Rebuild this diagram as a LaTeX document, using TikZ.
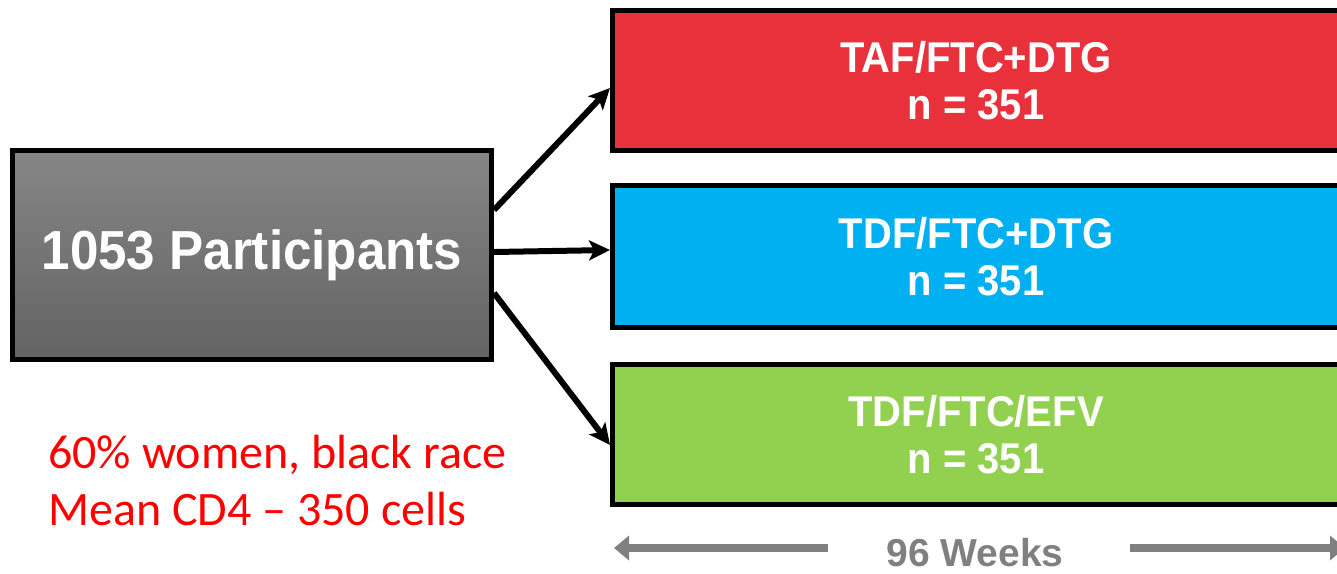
\documentclass[tikz,border=0pt]{standalone}
\usepackage{fontspec}
\setmainfont{Liberation Sans}
\newfontfamily\narrowbold{Liberation Sans}[FakeStretch=0.93]
\newfontfamily\calib{Carlito}
\usetikzlibrary{arrows.meta}
\definecolor{redbox}{HTML}{E8313B}
\definecolor{bluebox}{HTML}{00B0F0}
\definecolor{greenbox}{HTML}{92D050}
\definecolor{graytop}{HTML}{868686}
\definecolor{graybot}{HTML}{636363}
\definecolor{weekgray}{HTML}{808080}
\definecolor{notered}{HTML}{FF0000}
\begin{document}
\begin{tikzpicture}[x=1pt,y=-1pt,
  arm/.style={draw=black, line width=5pt, minimum width=727pt, inner sep=0pt,
    align=center, text=white, font=\narrowbold\bfseries\fontsize{43}{47}\selectfont},
  link/.style={line width=6pt, -{Stealth[length=21pt,width=20pt,inset=5pt]}},
  span/.style={line width=8pt, draw=weekgray, -{Triangle[length=15pt,width=24pt]}},
  note/.style={anchor=base west, inner sep=0pt, text=notered, font=\calib\fontsize{48}{57}\selectfont}]
\useasboundingbox (0,0) rectangle (1337,573);
\clip (0,0) rectangle (1337,573);
\node[draw=black, line width=5pt, minimum width=479pt, minimum height=209pt, inner sep=0pt,
  top color=graytop, bottom color=graybot, text=white,
  font=\narrowbold\bfseries\fontsize{55}{60}\selectfont] (part) at (252,255) {1053 Participants};
\node[arm, fill=redbox, minimum height=140pt] (taf) at (976,80.5) {TAF/FTC+DTG\\n = 351};
\node[arm, fill=bluebox, minimum height=142pt] (tdf) at (976,256.5) {TDF/FTC+DTG\\n = 351};
\node[arm, fill=greenbox, minimum height=140pt] (efv) at (976,434.5) {TDF/FTC/EFV\\n = 351};
\draw[link] ([yshift=45pt]part.east) -- ([yshift=-7.5pt]taf.west);
\draw[link] ([yshift=3pt]part.east) -- ([yshift=6.5pt]tdf.west);
\draw[link] ([yshift=-38pt]part.east) -- ([yshift=-10.5pt]efv.west);
\node[note] (note1) at (48,468) {60\% women, black race};
\node[note] (note2) at (48,525) {Mean CD4 – 350 cells};
\node[inner sep=0pt, anchor=base, text=weekgray, font=\bfseries\fontsize{39}{44}\selectfont] (wk) at (975,566) {96 Weeks};
\coordinate (wlA) at (828,548);
\coordinate (wlB) at (614,548);
\coordinate (wrA) at (1130,548);
\coordinate (wrB) at (1345,548);
\draw[span] (wlA) -- (wlB);
\draw[span] (wrA) -- (wrB);
\end{tikzpicture}
\end{document}
